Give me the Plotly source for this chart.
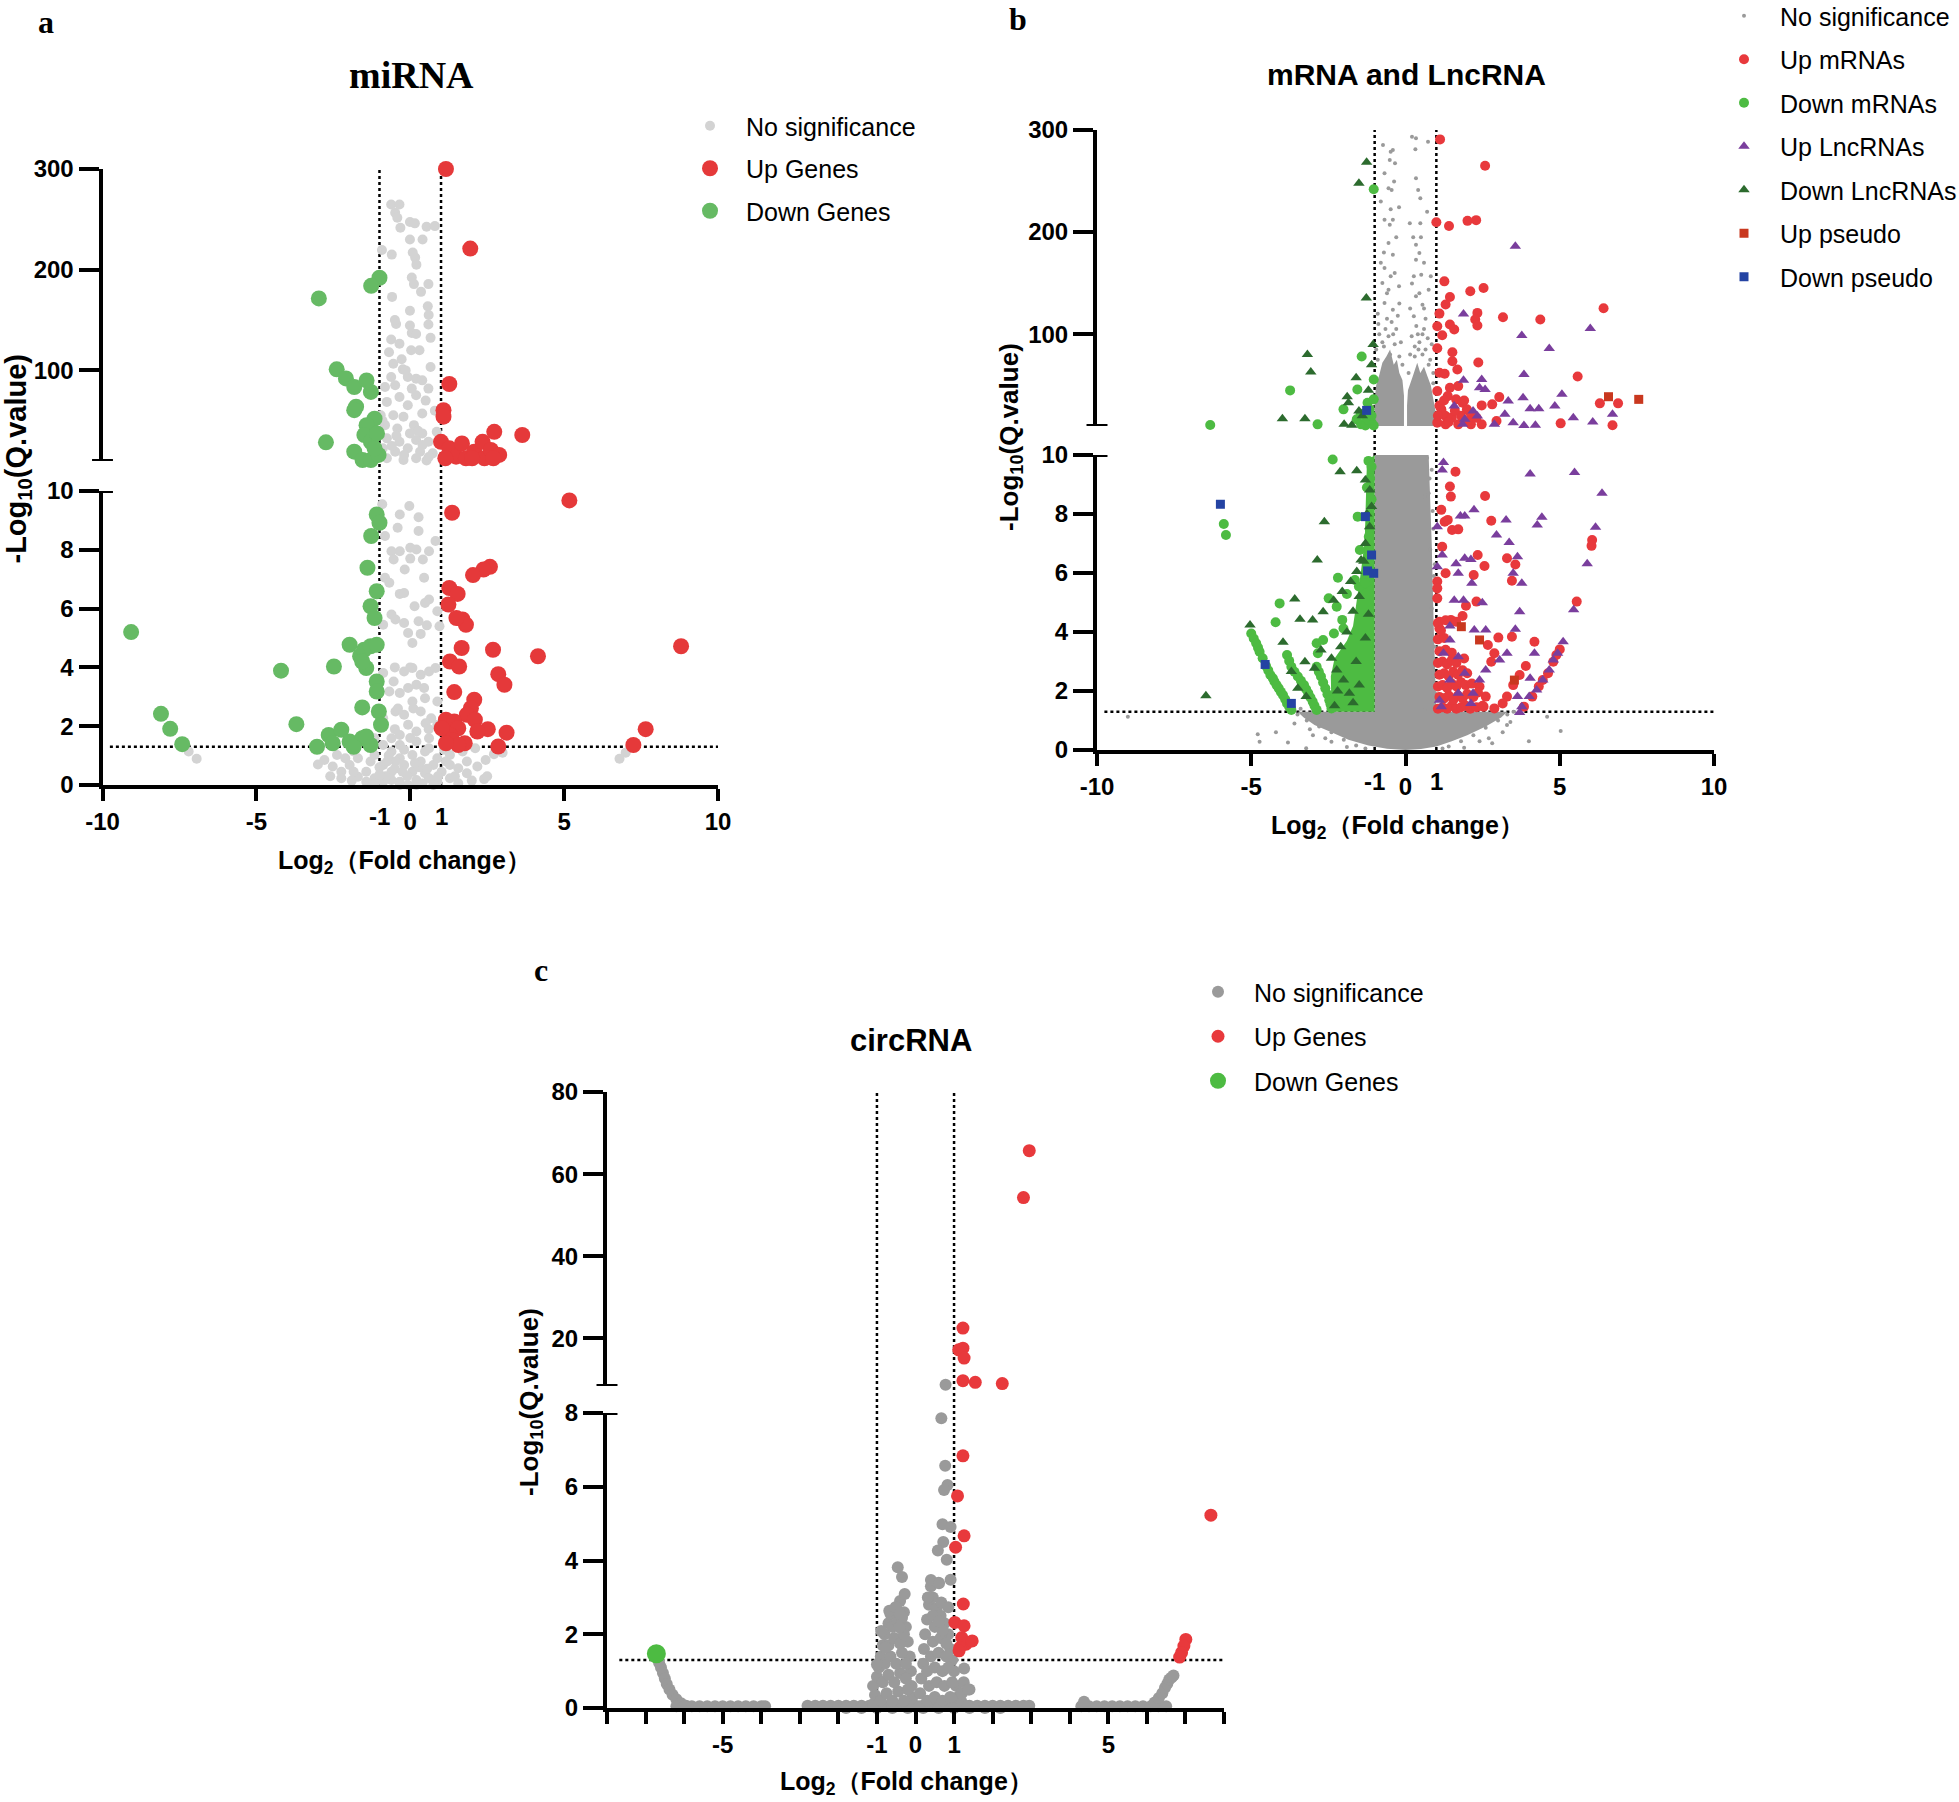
import plotly.graph_objects as go

W, H = 1959, 1802
SANS = "Liberation Sans, Arial, Helvetica, sans-serif"
SERIF = "Liberation Serif, Times New Roman, serif"

# ======================= DATA (log2 fold change, -log10 q value) =======================
# ---------- Panel a : miRNA ----------
a_ns_low = [(-0.91,9.55),(-0.03,9.49),(-0.34,9.2),(0.27,9.11),(-0.41,8.75),(0.27,8.64),(0.82,8.3),(-0.82,8.47),
    (-0.61,7.95),(-0.34,7.95),(0,8.07),(0.2,8.01),(0.61,7.95),(-0.54,7.67),(0,7.7),(0.41,7.67),(-0.18,7.33),(0.45,7.05),
    (-0.82,7.05),(-0.68,6.88),(-0.34,6.5),(-0.2,6.53),(0.61,6.31),(0.48,6.19),(0.14,6.08),(0.88,5.91),(-0.61,5.8),
    (-0.48,5.63),(-0.2,5.51),(0.27,5.57),(0.54,5.43),(0.95,5.4),(-0.88,5.45),(-0.07,5.17),(0.34,5.14),(0.07,4.83),
    (-0.88,3.81),(-0.54,3.52),(-0.2,3.86),(0.07,3.98),(0.34,3.75),(0.61,3.86),(0.82,3.98),(-0.07,3.3),(0.2,3.41),
    (-0.34,3.13),(-0.68,3.18),(0.48,2.95),(0.88,2.84),(0.07,2.84),(-0.48,2.5),(-0.2,2.39),(0.34,2.5),(0.68,2.27),
    (-0.88,2.27),(-0.07,2.05),(-0.34,1.7),(0.2,1.82),(-0.61,1.59),(0.61,1.59),(0.88,2.05),
    (-2.79,0.85),(-2.52,0.63),(-2.24,0.45),(-1.97,0.68),(-1.7,0.91),(-1.43,0.45),(-1.16,0.23),(-0.88,0.68),(-0.61,0.45),
    (-0.34,0.11),(-0.07,0),(0.2,0.17),(0.48,0.4),(0.75,0.68),(1.02,0.45),(1.29,0.23),(1.56,0.57),(1.84,0.4),(2.18,0.63),
    (2.45,0.85),(2.72,1.05),(-2.38,1.02),(-1.84,1.14),(-1.16,1.02),(-0.61,1.14),(-0.34,0.91),(0.07,1.02),(0.48,1.14),
    (0.88,0.91),(1.29,1.02),(1.7,1.14),(2.11,1.25),(-1.16,1.59),(-0.88,1.36),(-0.34,1.36),(0.2,1.48),(0.61,1.25),
    (1.16,0.8),(-0.61,0.17),(-1.16,0.06),(-1.43,0.11),(0.88,0.11),(1.56,0.06),(-2.24,0.23),(-1.7,0.28),(0.07,0.45),
    (-0.2,0.68),(-0.48,0.8),(0.34,0.8),(-0.75,0.8),(-1.29,0.8),(-1.84,0.45),(-2.11,0.91),(1.84,0.8),(1.29,0.68),
    (0.61,0.23),(-0.88,0.11),(0.2,0),(-0.34,0),(0.75,0),
    (-7.2,1.14),(-6.94,0.89),(7.0,1.1),(6.8,0.89),
    (-0.5,1.9),(0.5,2.1),(-0.2,1.2),(0.3,0.6),(-0.8,0.3),(0.9,0.3),(-0.4,2.6),(0.1,2.6),(0.6,1.9),(-0.7,1.0),
    (1.1,1.2),(-1.0,0.6),(0.0,1.6),(0.45,3.3),(-0.5,4.0),(0.0,4.0),(2.4,0.2),(-2.6,0.3),(-3.0,0.7),(3.0,1.1),(2.5,0.3),
    (-0.1,0.3),(0.4,0.05),(-0.5,0.55),(0.15,0.75),(-1.0,0.35),(1.45,0.3),(-1.9,0.15),(2.0,0.15),(-0.25,0.45),(0.55,0.55)]
a_ns_up = [(-0.62,264.7),(-0.35,264.7),(-0.49,256.5),(-0.42,251.6),(-0.01,247.3),(0.15,246),(0.53,242.7),(0.8,243.3),
    (-0.32,241.7),(-0.01,230),(-0.92,219.6),(0.08,217),(0.16,212),(0.05,192.3),(0.12,185.7),(0.59,185.7),(0.35,178),
    (-0.59,173),(0.57,163.6),(-0.01,159.3),(-0.46,146),(-0.01,144.5),(0.59,145.5),(0.05,137.2),(0.19,136.2),(0.66,132.3),
    (-0.62,130.6),(-0.35,126.4),(0.03,120),(-0.69,118),(-0.28,111),(-0.55,106.6),(0.66,103.3),(-0.24,101),(-0.62,93.4),
    (-0.08,93.4),(0.19,91.8),(0.39,90.1),(-0.82,83.5),(-0.49,85.2),(0.05,81.9),(0.59,81.9),(-0.35,73.6),(0.19,75.3),
    (-0.76,68.7),(-0.08,65.4),(0.39,57.2),(-0.96,55.5),(-0.55,55.5),(-0.22,53.9),(0.12,45.6),(-0.82,45.6),(-0.42,42.3),
    (-0.01,37.4),(0.39,37.4),(0.86,39),(-0.76,32.5),(-0.35,29.2),(0.19,30.8),(0.59,29.2),(-0.89,22.6),(-0.49,19.3),
    (-0.08,22.6),(0.32,19.3),(0.73,17.6),(-0.76,12.7),(-0.22,11),(0.19,12.7),(0.53,10.5),
    (-0.6,25),(0.4,26),(-0.2,16),(0.6,14),(-0.45,35),(0.25,40),(-0.9,50),(0.8,60),(0.5,70),(-0.15,100),(0.3,120),
    (-0.5,150),(0.6,155),(0.2,205),(-0.6,215),(0.4,230)]
a_up_low = [(5.17,9.68),(1.36,9.26),(2.59,7.42),(2.38,7.33),(2.04,7.14),(1.27,6.7),(1.54,6.5),(1.24,6.14),(1.7,5.63),
    (1.81,5.45),(1.5,5.68),(1.67,4.66),(2.69,4.6),(4.15,4.38),(8.8,4.72),(1.29,4.2),(1.59,4.03),(2.86,3.77),(3.06,3.41),
    (1.43,3.16),(2.08,2.9),(1.97,2.61),(1.84,2.39),(2.1,2.22),(1.16,2.22),(1.43,2.16),(1.56,1.93),(1.29,1.7),(1.02,1.93),
    (1.36,1.53),(2.52,1.9),(2.18,1.82),(3.13,1.78),(2.86,1.31),(1.77,1.42),(1.56,1.36),(1.16,1.42),(7.65,1.9),(7.25,1.36)]
a_up_up = [(1.16,300),(1.95,221),(1.27,86.5),(1.08,60.5),(1.08,54),(2.73,39),(3.64,35.8),(1.0,29),(1.27,22.6),
    (1.49,14.3),(1.68,27.5),(1.81,12.7),(2.08,19.3),(2.35,29),(2.41,12.7),(2.62,21),(2.89,16),(1.14,12.7),(2.7,12.7),(2.01,12.7)]
a_dn_low = [(-9.07,5.2),(-8.1,2.42),(-7.8,1.91),(-7.41,1.39),(-4.2,3.89),(-3.7,2.07),(-2.48,4.03),(-1.97,4.77),
    (-1.63,4.38),(-1.5,4.6),(-1.29,4.72),(-1.09,4.77),(-1.43,3.98),(-1.56,4.2),(-1.09,9.2),(-1.0,8.92),(-1.27,8.47),
    (-1.39,7.39),(-1.09,6.59),(-1.29,6.08),(-1.16,5.68),(-1.09,3.52),(-1.09,3.18),(-1.56,2.64),(-1.02,2.5),(-0.95,2.05),
    (-3.03,1.3),(-2.65,1.7),(-2.24,1.88),(-1.97,1.48),(-1.56,1.59),(-2.52,1.42),(-1.84,1.3),(-1.29,1.36),(-1.43,1.65)]
a_dn_up = [(-2.97,171.5),(-1.0,192),(-1.27,184),(-2.39,101),(-2.09,92),(-1.82,83.5),(-1.42,90),(-1.28,78.6),(-1.76,64),
    (-1.82,60.5),(-1.16,52),(-1.42,45.6),(-1.49,35.8),(-1.28,29),(-1.08,37.4),(-2.74,28.5),(-1.82,19.3),(-1.55,11),
    (-1.28,11),(-1.03,16),(-1.16,22.6)]

# ---------- Panel b : mRNA and LncRNA ----------
b_ns_low = [(-9.0,1.13),(-4.79,0.53),(-4.73,0.28),(-3.81,0.25),(-3.22,0.06),(4.59,1.13),(5.03,0.64),(3.29,0.85),
    (2.81,0.23),(-2.4,0.28),(0.62,8.59),(0.75,8.7),(0.89,5.42),(0.82,4.01),(0.89,2.6),(0.96,1.92),(0.62,1.36),
    (-3.5,1.2),(-3.2,1.0),(-2.8,0.8),(-2.4,0.6),(-2.0,0.35),(-1.6,0.15),(3.3,1.2),(3.0,1.0),(2.6,0.75),(2.2,0.5),
    (1.8,0.3),(1.4,0.12),(-3.0,0.5),(2.7,0.4),(-1.9,0.1),(1.9,0.08),(-3.6,0.9),(3.4,0.95),(0.85,9.5),(0.9,7.5),
    (0.95,6.3),(-3.7,1.3),(3.5,1.3),(0.7,9.9),(0.78,9.2),(0.88,8.1),(0.8,6.8),(0.92,5.9),(0.85,4.8),(0.95,3.5),(0.9,3.1),
    (-3.4,1.4),(-3.1,0.7),(3.15,0.6),(2.4,0.3),(-2.6,0.4),(1.2,0.05),(-1.3,0.05),(4.0,0.3),(-4.2,0.6)]
# outline of the saturated grey cloud (thousands of overlapping points)
b_ns_low_core = [(0,0),(-0.6,0.04),(-1.2,0.15),(-1.85,0.35),(-2.4,0.6),(-2.95,0.85),(-3.3,1.1),(-3.5,1.3),(-1.0,1.3),
    (-1.0,10),(0.75,10),(0.85,7),(0.92,4),(1.0,1.3),(3.3,1.3),(3.1,1.1),(2.6,0.8),(2.0,0.5),(1.5,0.3),(1.0,0.12),(0.5,0.03)]
b_ns_up = [(-0.73,285.3),(-0.41,280.4),(-0.51,270.6),(-0.34,267.4),(-0.68,257.6),(-0.37,249.5),(-0.55,243),(-0.45,241.3),
    (0.34,252.7),(0.41,241.3),(0.48,233.2),(-0.48,222.4),(-0.21,224.4),(-0.68,212),(-0.41,212),(-0.51,207.1),(0.14,208.7),
    (0.48,208.7),(-0.55,189.2),(-0.41,177.8),(0.34,187.6),(0.45,179.4),(0.34,172.9),(-0.68,164.8),(-0.48,156.6),
    (-0.75,150.1),(-0.55,143.6),(-0.21,146.8),(0.27,156.6),(0.51,158.2),(0.21,149.5),(0.34,137.1),(0.55,128.9),
    (-0.68,130.6),(-0.41,124),(0.27,117.5),(0.75,143.6),(0.82,156.6),(0.21,293.4),(0.34,291.8),(0.73,288.6),(0.32,281.1),
    (-0.48,278.8),(-0.6,115),(-0.3,105),(-0.85,100),(0.6,105),(0.4,100),(0.85,90),(-0.9,120),(-0.2,130),(0.15,125),
    (0.65,115),(-0.7,180),(0.25,195),(-0.3,195),(0.6,170),(-0.8,230),(0.7,220),
    (-0.95,85),(-0.75,92),(-0.55,98),(-0.35,90),(-0.2,78),(-0.1,70),(-0.65,105),(-0.45,112),(-0.88,110),(-0.25,118),
    (0.15,80),(0.3,88),(0.45,92),(0.65,85),(0.8,75),(0.9,62),(0.55,100),(0.35,108),(0.72,96),(0.2,98),
    (-0.6,140),(-0.35,160),(0.45,140),(0.6,125),(-0.8,170),(0.5,195),
    (-0.15,92),(-0.5,80),(-0.9,75),(-0.7,88),(-0.4,100),(0.1,62),(0.3,78),(0.55,80),(0.75,70),(0.9,52),(0.42,85)]
b_ns_up_core_l = [(-1,10),(-0.05,10),(-0.05,40),(-0.1,55),(-0.2,62),(-0.28,75),(-0.38,70),(-0.5,85),(-0.62,78),
    (-0.75,72),(-0.85,60),(-0.95,50),(-1,35)]
b_ns_up_core_r = [(0.05,10),(0.97,10),(0.97,25),(0.9,38),(0.82,50),(0.72,58),(0.6,68),(0.48,62),(0.38,72),(0.25,60),
    (0.15,52),(0.08,45),(0.05,30)]

b_upm_low = [(1.62,9.43),(1.44,8.93),(1.47,8.59),(2.58,8.61),(1.16,8.14),(1.27,7.74),(1.37,7.8),(1.51,7.46),(1.71,7.48),
    (2.78,7.77),(1.19,6.89),(2.34,6.61),(2.56,6.24),(3.29,6.5),(3.56,6.29),(3.45,5.74),(1.3,5.99),(2.21,5.93),(1.03,5.71),
    (1.03,5.48),(1.03,5.14),(6.05,7.12),(6.03,6.92),(5.55,5.03),(2.3,5.03),(1.96,4.89),(1.85,4.54),(1.47,4.41),(1.64,4.35),
    (1.1,4.35),(1.1,4.12),(3.01,3.81),(3.45,3.84),(4.18,3.67),(2.67,3.56),(2.88,3.28),(2.78,2.99),(5.0,3.41),(4.89,3.22),
    (4.79,2.99),(4.62,2.6),(4.45,2.37),(4.32,2.15),(4.11,1.81),(3.84,1.47),(3.9,2.85),(3.7,2.54),(3.49,2.2),(3.29,1.81),
    (3.15,1.58),(2.88,1.41),(2.4,2.15),(2.6,1.81),(2.53,1.47),
    (1.05,1.4),(1.2,1.45),(1.35,1.4),(1.5,1.5),(1.65,1.4),(1.8,1.45),(1.95,1.5),(2.1,1.4),(2.3,1.45),(2.5,1.5),
    (1.1,1.8),(1.25,1.75),(1.4,1.85),(1.55,1.7),(1.7,1.85),(1.85,1.75),(2.0,1.9),(2.2,1.8),(2.35,1.95),
    (1.05,2.15),(1.2,2.2),(1.35,2.1),(1.5,2.25),(1.65,2.15),(1.8,2.3),(1.95,2.2),(2.15,2.25),
    (1.1,2.55),(1.25,2.6),(1.4,2.5),(1.55,2.65),(1.7,2.55),(1.85,2.7),(2.0,2.6),
    (1.05,2.95),(1.2,3.0),(1.35,2.9),(1.5,3.05),(1.65,2.95),(1.9,3.1),
    (1.1,3.35),(1.3,3.4),(1.5,3.3),(1.05,3.75),(1.25,3.8),(1.05,4.3),(1.15,4.05),(1.3,4.4)]
b_upm_up = [(1.12,290.8),(2.58,265),(1.0,209.7),(1.41,206),(2.01,211),(2.29,211.7),(1.26,151.7),(2.1,142),(2.53,145.2),
    (1.44,136.4),(1.3,129),(1.1,120.1),(2.33,120.8),(2.26,114.3),(3.16,116.5),(4.37,114.3),(6.42,125.3),(1.03,107.7),
    (1.44,109.4),(1.58,104.5),(2.33,108.4),(1.19,98.9),(1.03,86.2),(1.52,82.3),(1.52,73.5),(2.36,72.2),(1.68,65.4),
    (1.1,62.1),(1.27,61.2),(5.58,58.5),(1.03,44.2),(1.44,47.5),(1.71,49.1),(1.37,39.3),(1.64,36.1),(1.85,32.8),
    (1.99,26.3),(2.12,21.4),(2.47,30.2),(2.81,31.2),(3.04,38.3),(1.16,26.3),(1.3,19.8),(1.03,13.3),(1.3,11.6),
    (1.71,11.6),(2.12,11.6),(2.47,11.6),(2.95,14.9),(5.03,12.6),(6.3,32.2),(6.89,32.2),(6.71,10.7),
    (1.1,30),(1.2,22),(1.5,18),(1.8,20),(1.6,25),(1.4,14),(2.0,15),(1.9,35),(1.25,35),(1.05,20),(2.3,18)]

b_dnm_low = [(-2.36,9.85),(-5.89,7.66),(-5.82,7.29),(-1.55,7.91),(-1.16,7.51),(-1.19,7.23),(-1.48,6.78),(-2.19,5.84),
    (-1.64,5.76),(-1.51,5.54),(-1.3,5.65),(-1.9,5.29),(-2.49,5.14),(-2.23,4.86),(-2.05,4.41),(-2.01,4.12),(-2.32,3.95),
    (-2.88,3.62),(-2.84,3.28),(-2.67,3.73),(-4.08,4.97),(-4.21,4.33),
    (-5.0,3.95),(-4.92,3.78),(-4.84,3.62),(-4.78,3.47),(-4.73,3.33),(-4.63,3.11),(-4.52,2.85),(-4.45,2.7),(-4.38,2.54),
    (-4.3,2.43),(-4.25,2.32),(-4.18,2.2),(-4.11,2.09),(-4.04,1.97),(-3.97,1.86),(-3.9,1.72),(-3.84,1.58),(-3.77,1.47),(-3.7,1.36),
    (-3.84,3.22),(-3.77,3.02),(-3.7,2.82),(-3.6,2.65),(-3.49,2.49),(-3.39,2.35),(-3.29,2.2),(-3.22,2.06),(-3.15,1.92),
    (-3.08,1.78),(-3.01,1.64),(-2.95,1.5),(-2.88,1.36),
    (-2.88,2.82),(-2.81,2.65),(-2.74,2.49),(-2.67,2.29),(-2.6,2.09),(-2.53,1.89),(-2.47,1.69),(-2.43,1.55),(-2.4,1.41),
    (-1.2,9.8),(-1.1,9.6),(-1.15,9.2),(-1.25,8.9),(-1.1,8.5)]
# outline of the saturated light-green block
b_dnm_low_core = [(-2.4,1.3),(-2.42,2.5),(-2.3,3.1),(-1.9,3.7),(-1.7,4.2),(-1.58,5.0),(-1.45,6.0),(-1.32,7.1),
    (-1.28,8.5),(-1.25,9.8),(-1.0,10),(-1.0,1.3)]
b_dnm_up = [(-1.03,242),(-1.42,78.1),(-1.03,55.6),(-1.56,45.8),(-3.74,44.9),(-2.01,26.3),(-2.85,11.6),(-6.33,11),
    (-1.58,16.5),(-1.3,19.8),(-1.16,26.3),(-1.23,32.8),(-1.03,36.1),(-1.1,13.3),(-1.44,11.6),(-1.3,10.5),(-1.03,10.5),
    (-1.2,16),(-1.45,22),(-1.1,20)]

b_upl_low = [(1.23,9.75),(1.19,9.49),(4.04,9.36),(5.48,9.41),(6.37,8.7),(6.16,7.55),(5.89,6.31),(5.45,4.75),(2.22,8.14),
    (1.92,7.93),(1.78,7.93),(3.26,7.8),(4.42,7.89),(4.27,7.63),(2.95,7.29),(3.36,7.03),(3.63,6.55),(3.77,5.65),(3.49,5.99),
    (1.19,6.61),(1.64,6.31),(1.92,6.5),(2.12,6.46),(1.71,5.99),(2.15,5.65),(1.58,5.08),(1.88,5.08),(2.49,4.99),(3.7,4.69),
    (3.56,4.09),(2.6,4.07),(2.23,4.07),(1.44,4.2),(1.03,6.21),(1.03,7.57),
    (5.11,3.67),(4.93,3.28),(4.79,3.05),(4.66,2.71),(4.45,2.37),(4.25,2.03),(4.01,1.81),(3.77,1.47),(3.7,1.27),
    (3.29,3.28),(3.05,3.05),(2.6,2.71),(2.4,2.37),(2.19,1.92),(1.92,2.6),(1.71,3.16),(1.44,3.73),(1.23,3.28),(1.44,2.37),
    (1.71,1.92),(2.12,1.58),(1.16,1.47),(1.1,1.69),(3.63,1.81),(4.04,2.43),(4.18,3.28)]
b_upl_up = [(3.56,186),(1.88,119.8),(5.99,105.5),(3.77,98.6),(4.66,85.9),(3.84,60.5),(1.88,54.9),(2.47,55.6),(2.4,47.5),
    (2.58,45.8),(3.33,34.4),(3.81,37.7),(5.07,41),(4.84,29.5),(4.04,27),(4.32,27),(3.22,21.4),(5.44,18.1),(6.07,13.9),
    (6.71,21.4),(3.49,13.3),(3.84,10.5),(4.21,10.7),(2.88,11.6),(1.85,11.6),(1.58,29.5),(2.19,24.7),(2.33,19.8),(1.92,16.5)]

b_dnl_low = [(-2.12,9.43),(-1.58,9.47),(-2.63,7.74),(-2.86,6.44),(-3.59,5.12),(-5.04,4.24),(-3.42,4.43),(-3.97,3.65),
    (-3.01,4.41),(-2.67,4.69),(-2.33,5.08),(-2.05,5.37),(-1.78,5.71),(-1.58,6.05),(-1.44,6.44),(-1.3,7.0),(-1.16,7.57),
    (-1.1,8.25),(-1.16,8.81),(-1.3,9.15),(-3.26,2.99),(-3.7,2.66),(-3.49,2.09),(-3.22,1.81),(-2.74,3.39),(-2.4,3.11),
    (-2.23,2.71),(-2.01,2.37),(-1.82,1.92),(-2.95,2.77),(-6.47,1.84),
    (-1.9,4.0),(-1.7,4.7),(-1.5,5.2),(-1.35,6.4),(-1.25,8.0),(-2.1,3.5),(-1.6,3.0),(-2.2,2.0),(-1.5,2.2),(-1.3,3.8),
    (-1.2,4.6),(-1.7,1.6),(-2.3,1.5)]
b_dnl_up = [(-1.26,268.4),(-1.51,247.8),(-1.27,135.4),(-1.05,89.8),(-3.18,80),(-3.07,62.8),(-1.6,57.2),(-1.89,38.7),
    (-1.85,32.8),(-1.51,24.7),(-3.99,17.2),(-3.26,17.2),(-1.99,11.6),(-1.74,10.7),(-1.2,45),(-1.4,20),(-1.1,70)]

b_upp_low = [(1.81,4.18),(2.4,3.73),(3.53,2.37)]
b_upp_up = [(6.58,38.7),(7.56,36.1)]
b_dnp_low = [(-6.0,8.33),(-1.3,7.91),(-1.1,6.61),(-1.23,6.07),(-1.03,5.99),(-4.55,2.9),(-3.7,1.58)]
b_dnp_up = [(-1.26,25.3)]

# ---------- Panel c : circRNA ----------
c_ns_low = [(-6.65,1.23),(-6.6,1.1),(-6.55,0.95),(-6.5,0.8),(-6.45,0.65),(-6.38,0.5),(-6.3,0.36),(-6.2,0.24),
    (-6.08,0.13),(-5.95,0.06),
    (-6.2,0.05),(-6.0,0.05),(-5.8,0.05),(-5.6,0.05),(-5.4,0.05),(-5.2,0.05),(-5.0,0.05),(-4.8,0.05),(-4.6,0.05),
    (-4.4,0.05),(-4.2,0.05),(-4.0,0.05),(-3.9,0.05),
    (-2.8,0.06),(-2.6,0.06),(-2.4,0.06),(-2.2,0.06),(-2.0,0.06),(-1.8,0.06),(-1.6,0.06),(-1.4,0.06),(-1.2,0.06),
    (-1.0,0.06),(-0.8,0.06),(-0.6,0.06),(-0.4,0.06),(-0.2,0.06),(0.0,0.06),(0.2,0.06),(0.4,0.06),(0.6,0.06),(0.8,0.06),
    (1.0,0.06),(1.2,0.06),(1.4,0.06),(1.6,0.06),(1.8,0.06),(2.0,0.06),(2.2,0.06),(2.4,0.06),(2.6,0.06),(2.8,0.06),(2.95,0.06),
    (-1.8,0.0),(-1.4,0.0),(-1.0,0.0),(-0.6,0.0),(-0.2,0.0),(0.2,0.0),(0.6,0.0),(1.0,0.0),(1.4,0.0),(1.8,0.0),(2.2,0.0),
    (4.3,0.05),(4.5,0.05),(4.7,0.05),(4.9,0.05),(5.1,0.05),(5.3,0.05),(5.5,0.05),(5.7,0.05),(5.9,0.05),(6.1,0.05),
    (6.3,0.05),(6.5,0.05),(4.37,0.17),
    (6.2,0.15),(6.31,0.27),(6.4,0.4),(6.47,0.55),(6.53,0.66),(6.58,0.77),(6.64,0.83),(6.69,0.88),
    (-1.1,0.1),(-1.05,0.35),(-1.1,0.6),(-1.0,0.85),(-0.95,1.1),(-0.9,1.4),(-0.85,1.7),(-0.8,2.0),(-0.7,2.3),(-0.65,2.55),
    (-0.5,2.7),(-0.4,2.9),(-0.3,2.6),(-0.25,2.2),(-0.2,1.8),(-0.15,1.4),(-0.12,1.0),(-0.1,0.6),(-0.08,0.3),(-0.05,0.05),
    (-0.9,0.2),(-0.75,0.4),(-0.6,0.2),(-0.45,0.45),(-0.3,0.2),(-0.2,0.5),(-0.85,0.7),(-0.7,0.9),(-0.55,0.7),(-0.4,0.95),
    (-0.25,0.8),(-0.8,1.2),(-0.65,1.4),(-0.5,1.2),(-0.35,1.5),(-0.25,1.2),(-0.7,1.7),(-0.55,1.9),(-0.4,1.75),(-0.3,2.0),
    (-0.6,2.2),(-0.45,2.35),(-0.35,2.45),
    (0.1,0.05),(0.12,0.4),(0.15,0.8),(0.2,1.2),(0.22,1.6),(0.25,2.0),(0.3,2.4),(0.35,2.8),(0.45,3.0),(0.55,2.7),
    (0.65,2.5),(0.75,2.3),(0.85,2.0),(0.9,1.6),(0.95,1.3),(1.0,1.0),(1.05,0.6),(1.1,0.3),(1.2,0.15),(1.35,0.05),
    (0.3,0.2),(0.5,0.3),(0.7,0.2),(0.9,0.3),(0.35,0.6),(0.55,0.7),(0.75,0.6),(0.95,0.7),(0.3,1.0),(0.5,1.1),(0.7,1.0),
    (0.85,1.1),(0.4,1.4),(0.6,1.5),(0.8,1.4),(0.45,1.8),(0.65,1.9),(0.8,1.75),(0.5,2.2),(0.7,2.1),(0.45,2.5),(0.6,2.35),
    (0.4,3.3),(0.6,3.4),(1.2,0.4),(1.25,0.7),(1.4,0.5),
    (-0.46,3.82),(-0.35,3.55),(-0.28,3.09),(-0.68,2.64),(-0.52,2.73),(-0.41,2.55),(-1.0,1.18),(-0.89,2.09),(-0.78,1.64),
    (-0.41,2.18),(0.67,7.86),(0.77,6.57),(0.83,6.05),(0.74,5.91),(0.7,4.98),(0.91,4.91),(0.72,4.5),(0.58,4.27),
    (0.81,4.02),(0.4,3.47),(0.61,3.38),(0.91,3.48),(0.32,3.0),(0.67,2.86),(0.85,2.73),(1.26,1.07),(1.37,0.5)]
c_ns_up = [(0.78,8.7)]
c_up_low = [(1.23,6.84),(1.09,5.75),(1.26,4.67),(1.04,4.36),(1.24,2.82),(1.02,2.32),(1.26,2.23),(1.2,1.91),(1.31,1.73),
    (1.47,1.82),(1.15,1.64),(1.13,1.55),(7.66,5.23),(7.01,1.86),(6.96,1.68),(6.9,1.5),(6.85,1.38)]
c_up_up = [(2.95,65.7),(2.8,54.3),(1.23,22.5),(1.12,17.2),(1.23,17.6),(1.26,15.2),(1.23,9.7),(1.55,9.3),(2.25,9.0)]
c_dn_low = [(-6.72,1.47)]

# ---------- thresholds, ranges and tick labels ----------
fc_cut = [-1, 1]
q_cut = 1.3
ab_xticks = [-10, -5, 0, 5, 10]
ab_xlabels_extra = [-1, 1]
a_low_ticks = [0, 2, 4, 6, 8, 10]
a_up_ticks = [100, 200, 300]
c_xticks = [-5, -1, 0, 1, 5]
c_xminor = [-8, -7, -6, -4, -3, -2, 2, 3, 4, 6, 7, 8]
c_low_ticks = [0, 2, 4, 6, 8]
c_up_ticks = [20, 40, 60, 80]

# ======================= FIGURE =======================
def px(x): return x / W
def py(y): return 1 - y / H
def X(p): return [q[0] for q in p]
def Y(p): return [q[1] for q in p]

fig = go.Figure()

def pts(p, xa, ya, color, size, symbol="circle", name=None, legend="legend", show=False, group=None, rank=None):
    fig.add_trace(go.Scatter(x=X(p), y=Y(p), xaxis=xa, yaxis=ya, mode="markers",
        marker=dict(color=color, size=size, symbol=symbol, line=dict(width=0)),
        name=name, legend=legend, showlegend=show, legendgroup=group, legendrank=rank,
        cliponaxis=False, hoverinfo="skip"))

def poly(p, xa, ya, color):
    fig.add_trace(go.Scatter(x=X(p), y=Y(p), xaxis=xa, yaxis=ya, mode="lines", fill="toself",
        fillcolor=color, line=dict(width=0, color=color), showlegend=False, hoverinfo="skip"))

# colours
A_GREY, A_RED, A_GREEN = "#D3D3D3", "#E5393A", "#66BA64"
B_GREY, B_RED, B_GREEN = "#9A9A9A", "#E8393C", "#4DBB42"
B_PURPLE, B_DKGREEN, B_UPP, B_DNP = "#7A3E9D", "#2C6B2E", "#C9381F", "#2443A3"

# ---- panel a ----
pts(a_ns_low, "x", "y", A_GREY, 10, name="No significance", legend="legend", show=True, group="a0", rank=1)
pts(a_ns_up, "x", "y2", A_GREY, 10, group="a0")
pts(a_up_low, "x", "y", A_RED, 16, name="Up Genes", legend="legend", show=True, group="a1", rank=2)
pts(a_up_up, "x", "y2", A_RED, 16, group="a1")
pts(a_dn_low, "x", "y", A_GREEN, 16, name="Down Genes", legend="legend", show=True, group="a2", rank=3)
pts(a_dn_up, "x", "y2", A_GREEN, 16, group="a2")

# ---- panel b ----
poly(b_ns_low_core, "x2", "y3", B_GREY)
poly(b_ns_up_core_l, "x2", "y4", B_GREY)
poly(b_ns_up_core_r, "x2", "y4", B_GREY)
pts(b_ns_low, "x2", "y3", B_GREY, 4, name="No significance", legend="legend2", show=True, group="b0", rank=1)
pts(b_ns_up, "x2", "y4", B_GREY, 4, legend="legend2", group="b0")
poly(b_dnm_low_core, "x2", "y3", B_GREEN)
pts(b_dnm_low, "x2", "y3", B_GREEN, 10, name="Down mRNAs", legend="legend2", show=True, group="b2", rank=3)
pts(b_dnm_up, "x2", "y4", B_GREEN, 10, legend="legend2", group="b2")
pts(b_dnl_low, "x2", "y3", B_DKGREEN, 10, "triangle-up", name="Down LncRNAs", legend="legend2", show=True, group="b4", rank=5)
pts(b_dnl_up, "x2", "y4", B_DKGREEN, 10, "triangle-up", legend="legend2", group="b4")
pts(b_upm_low, "x2", "y3", B_RED, 10, name="Up mRNAs", legend="legend2", show=True, group="b1", rank=2)
pts(b_upm_up, "x2", "y4", B_RED, 10, legend="legend2", group="b1")
pts(b_upl_low, "x2", "y3", B_PURPLE, 10, "triangle-up", name="Up LncRNAs", legend="legend2", show=True, group="b3", rank=4)
pts(b_upl_up, "x2", "y4", B_PURPLE, 10, "triangle-up", legend="legend2", group="b3")
pts(b_upp_low, "x2", "y3", B_UPP, 9, "square", name="Up pseudo", legend="legend2", show=True, group="b5", rank=6)
pts(b_upp_up, "x2", "y4", B_UPP, 9, "square", legend="legend2", group="b5")
pts(b_dnp_low, "x2", "y3", B_DNP, 9, "square", name="Down pseudo", legend="legend2", show=True, group="b6", rank=7)
pts(b_dnp_up, "x2", "y4", B_DNP, 9, "square", legend="legend2", group="b6")

# ---- panel c ----
pts(c_ns_low, "x3", "y5", B_GREY, 12, name="No significance", legend="legend3", show=True, group="c0", rank=1)
pts(c_ns_up, "x3", "y6", B_GREY, 12, legend="legend3", group="c0")
pts(c_up_low, "x3", "y5", B_RED, 13, name="Up Genes", legend="legend3", show=True, group="c1", rank=2)
pts(c_up_up, "x3", "y6", B_RED, 13, legend="legend3", group="c1")
pts(c_dn_low, "x3", "y5", B_GREEN, 19, name="Down Genes", legend="legend3", show=True, group="c2", rank=3)

# ---- axes ----
tickfont = dict(family=SANS, size=24, color="black", weight="bold")
def xax(dom, anchor, rng, tickvals, minor=None):
    d = dict(domain=dom, anchor=anchor, range=rng, tickvals=tickvals, ticktext=[str(v) for v in tickvals],
             showline=True, linewidth=4, linecolor="black", ticks="outside", ticklen=12, tickwidth=4,
             tickcolor="black", tickfont=tickfont, showgrid=False, zeroline=False, fixedrange=True)
    if minor:
        d["minor"] = dict(tickvals=minor, ticks="outside", ticklen=12, tickwidth=4, tickcolor="black", showgrid=False)
    return d
def yax(dom, anchor, rng, tickvals):
    return dict(domain=dom, anchor=anchor, range=rng, tickvals=tickvals, ticktext=[str(v) for v in tickvals],
                showline=True, linewidth=4, linecolor="black", ticks="outside", ticklen=20, tickwidth=4,
                tickcolor="black", tickfont=tickfont, showgrid=False, zeroline=False, fixedrange=True)

# pixel geometry of each panel
A_X = [102.5, 718]; A_LOW = [785, 491]; A_UP = [461, 169]
B_X = [1097, 1714]; B_LOW = [750, 455]; B_UP = [426, 130]
C_X = [607, 1224]; C_LOW = [1708, 1413]; C_UP = [1386, 1092]

fig.update_layout(
    xaxis=xax([px(A_X[0]), px(A_X[1])], "y", [-10, 10], ab_xticks),
    yaxis=yax([py(A_LOW[0]), py(A_LOW[1])], "x", [0, 10], a_low_ticks),
    yaxis2=yax([py(A_UP[0]), py(A_UP[1])], "x", [10, 300], a_up_ticks),
    xaxis2=xax([px(B_X[0]), px(B_X[1])], "y3", [-10, 10], ab_xticks),
    yaxis3=yax([py(B_LOW[0]), py(B_LOW[1])], "x2", [0, 10], a_low_ticks),
    yaxis4=yax([py(B_UP[0]), py(B_UP[1])], "x2", [10, 300], a_up_ticks),
    xaxis3=xax([px(C_X[0]), px(C_X[1])], "y5", [-8, 8], c_xticks, c_xminor),
    yaxis5=yax([py(C_LOW[0]), py(C_LOW[1])], "x3", [0, 8], c_low_ticks),
    yaxis6=yax([py(C_UP[0]), py(C_UP[1])], "x3", [8.4, 80], c_up_ticks),
)

# ---- dotted threshold lines and axis-break caps ----
shapes = []
dot = dict(color="black", width=2.5, dash="dot")
for xa, low, up in [("x", A_LOW, A_UP), ("x2", B_LOW, B_UP), ("x3", C_LOW, C_UP)]:
    for v in fc_cut:
        shapes.append(dict(type="line", xref=xa, yref="paper", x0=v, x1=v, y0=py(low[0]), y1=py(up[1]),
                           line=dot, layer="below"))
for xa, ya, x0 in [("x", "y", 0.012), ("x2", "y3", 0.012), ("x3", "y5", 0.02)]:
    shapes.append(dict(type="line", xref=xa + " domain", yref=ya, x0=x0, x1=1, y0=q_cut, y1=q_cut,
                       line=dot, layer="below"))
cap = dict(color="black", width=4)
for xa, ylow, ylowtop, yup, yupbot in [("x", "y", 10, "y2", 10), ("x2", "y3", 10, "y4", 10), ("x3", "y5", 8, "y6", 8.4)]:
    shapes.append(dict(type="line", xref=xa + " domain", yref=ylow, x0=0, x1=0.017, y0=ylowtop, y1=ylowtop, line=cap))
    shapes.append(dict(type="line", xref=xa + " domain", yref=yup, x0=-0.017, x1=0.017, y0=yupbot, y1=yupbot, line=cap))
fig.update_layout(shapes=shapes)

# ---- text ----
ann = []
def text(x, y, s, size, family=SANS, angle=0, xref="paper"):
    ann.append(dict(x=x, y=y, xref=xref, yref="paper", text=s, showarrow=False, textangle=angle,
                    font=dict(family=family, size=size, color="black"), xanchor="center", yanchor="middle"))

text(px(46), py(22), "<b>a</b>", 32, SERIF)
text(px(411), py(75), "<b>miRNA</b>", 38, SERIF)
text(px(404), py(862), "<b>Log<sub>2</sub>（Fold change）</b>", 25)
text(px(17.5), py(459), "<b>-Log<sub>10</sub>(Q.value)</b>", 29, angle=-90)

text(px(1018), py(19), "<b>b</b>", 32, SERIF)
text(px(1406), py(74), "<b>mRNA and LncRNA</b>", 30)
text(px(1397), py(827), "<b>Log<sub>2</sub>（Fold change）</b>", 25)
text(px(1010), py(437), "<b>-Log<sub>10</sub>(Q.value)</b>", 26, angle=-90)

text(px(541), py(970), "<b>c</b>", 32, SERIF)
text(px(911), py(1040), "<b>circRNA</b>", 31)
text(px(906), py(1783), "<b>Log<sub>2</sub>（Fold change）</b>", 25)
text(px(530), py(1402), "<b>-Log<sub>10</sub>(Q.value)</b>", 26, angle=-90)

# -1 / 1 labels without tick marks on the a and b x axes
for xa, lab_y in [("x", 816), ("x2", 781)]:
    for v in ab_xlabels_extra:
        text(v, py(lab_y), "<b>%d</b>" % v, 24, xref=xa)
fig.update_layout(annotations=ann)

# ---- legends ----
def leg(x, y, gap):
    return dict(x=px(x), y=py(y), xanchor="left", yanchor="top", font=dict(family=SANS, size=25, color="black"),
                itemwidth=62, tracegroupgap=gap, itemsizing="trace", bgcolor="rgba(0,0,0,0)",
                traceorder="grouped", itemclick=False, itemdoubleclick=False)

fig.update_layout(
    legend=leg(674, 103, 7),
    legend2=leg(1708, -7, 8),
    legend3=leg(1182, 969, 9),
    width=W, height=H, margin=dict(l=0, r=0, t=0, b=0, autoexpand=False),
    paper_bgcolor="white", plot_bgcolor="rgba(0,0,0,0)", showlegend=True,
)

fig.write_html("out.html", config={"displayModeBar": False, "staticPlot": False},
               post_script="document.body.style.margin='0px';document.body.style.overflow='hidden';")
